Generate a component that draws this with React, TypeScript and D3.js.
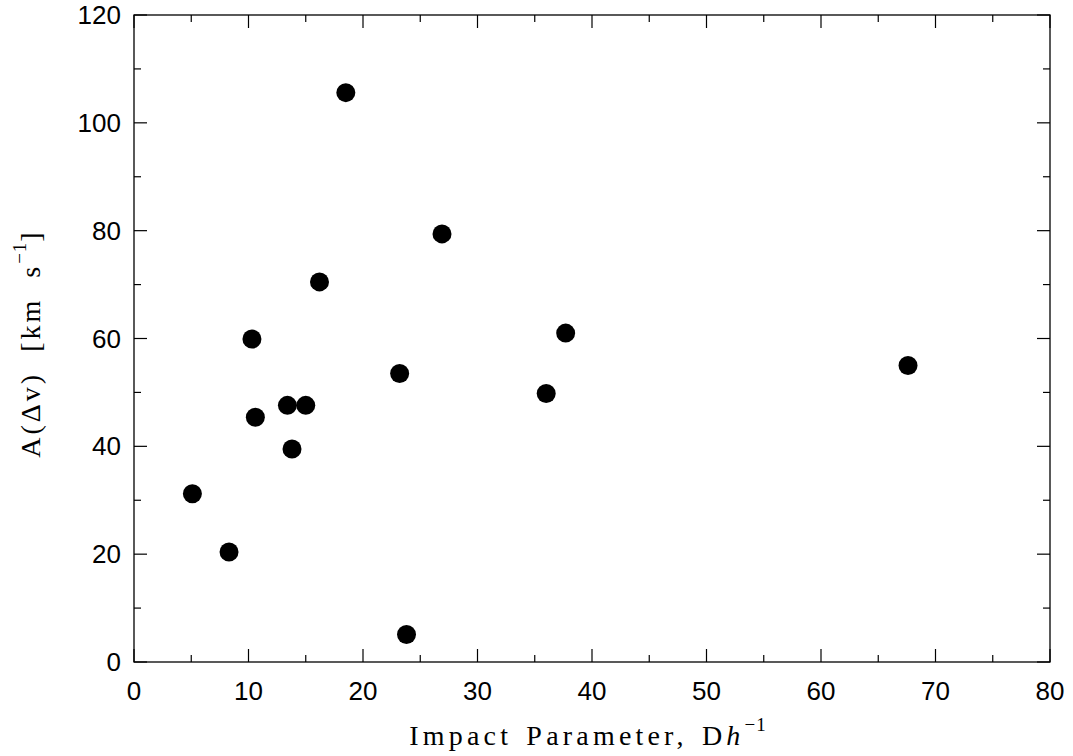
import * as d3 from 'd3'
import { useEffect, useRef } from 'react'

// impact parameter (D h^-1) and velocity amplitude A(dv) in km/s
const impactParam = [5.1, 8.3, 10.3, 10.6, 13.4, 15.0, 13.8, 16.2, 18.5, 23.2, 23.8, 26.9, 36.0, 37.7, 67.6]
const amplitude = [31.2, 20.4, 59.9, 45.4, 47.6, 47.6, 39.5, 70.5, 105.6, 53.5, 5.1, 79.4, 49.8, 61.0, 55.0]

const xMajor = [0, 10, 20, 30, 40, 50, 60, 70, 80]
const yMajor = [0, 20, 40, 60, 80, 100, 120]

const App = () => {
  const ref = useRef<SVGSVGElement>(null)

  useEffect(() => {
    const width = 1073
    const height = 756
    const left = 134
    const right = 1050
    const top = 15
    const bottom = 662
    const svg = d3.select(ref.current)
    svg.selectAll('*').remove()
    svg.attr('width', width).attr('height', height)

    const x = d3.scaleLinear().domain([0, 80]).range([left, right])
    const y = d3.scaleLinear().domain([0, 120]).range([bottom, top])

    const sans = 'Liberation Sans, Arial, sans-serif'
    const serif = 'Liberation Serif, DejaVu Serif, serif'

    // frame
    svg
      .append('rect')
      .attr('x', left)
      .attr('y', top)
      .attr('width', right - left)
      .attr('height', bottom - top)
      .attr('fill', 'none')
      .attr('stroke', '#000')
      .attr('stroke-width', 1.3)

    const ticks = svg.append('g').attr('stroke', '#000').attr('stroke-width', 1.2)
    const xMinor = d3.range(5, 80, 10)
    const yMinor = d3.range(10, 120, 20)

    // x ticks, bottom and top, pointing inward
    const xt = [...xMajor.map((v) => [v, 13]), ...xMinor.map((v) => [v, 7])]
    xt.forEach(([v, len]) => {
      ticks.append('line').attr('x1', x(v)).attr('x2', x(v)).attr('y1', bottom).attr('y2', bottom - len)
      ticks.append('line').attr('x1', x(v)).attr('x2', x(v)).attr('y1', top).attr('y2', top + len)
    })
    // y ticks, left and right
    const yt = [...yMajor.map((v) => [v, 13]), ...yMinor.map((v) => [v, 7])]
    yt.forEach(([v, len]) => {
      ticks.append('line').attr('y1', y(v)).attr('y2', y(v)).attr('x1', left).attr('x2', left + len)
      ticks.append('line').attr('y1', y(v)).attr('y2', y(v)).attr('x1', right).attr('x2', right - len)
    })

    // tick labels
    svg
      .append('g')
      .selectAll('text')
      .data(xMajor)
      .join('text')
      .attr('x', (d) => x(d))
      .attr('y', bottom + 38)
      .attr('text-anchor', 'middle')
      .style('font-family', sans)
      .style('font-size', '26px')
      .text((d) => d)

    svg
      .append('g')
      .selectAll('text')
      .data(yMajor)
      .join('text')
      .attr('x', left - 13)
      .attr('y', (d) => y(d) + 9)
      .attr('text-anchor', 'end')
      .style('font-family', sans)
      .style('font-size', '26px')
      .text((d) => d)

    // points
    svg
      .append('g')
      .selectAll('circle')
      .data(impactParam)
      .join('circle')
      .attr('cx', (d) => x(d))
      .attr('cy', (d, i) => y(amplitude[i]))
      .attr('r', 9.5)
      .attr('fill', '#000')

    // axis titles
    const xl = svg
      .append('text')
      .attr('x', (left + right) / 2 - 4)
      .attr('y', 745)
      .attr('text-anchor', 'middle')
      .style('font-family', serif)
      .style('font-size', '28px')
      .style('letter-spacing', '4.2px')
      .style('word-spacing', '3px')
    xl.append('tspan').text('Impact Parameter, D')
    xl.append('tspan').style('font-style', 'italic').text('h')
    xl.append('tspan').attr('dy', -14).style('font-size', '19px').style('letter-spacing', '1px').text('\u22121')

    const yl = svg
      .append('text')
      .attr('transform', `translate(40, ${(top + bottom) / 2 + 5}) rotate(-90)`)
      .attr('text-anchor', 'middle')
      .style('font-family', serif)
      .style('font-size', '28px')
      .style('letter-spacing', '3px')
      .style('white-space', 'pre')
    yl.append('tspan').text('A(\u0394v)  [km  s')
    yl.append('tspan').attr('dy', -14).style('font-size', '19px').style('letter-spacing', '1px').text('\u22121')
    yl.append('tspan').attr('dy', 14).text(']')
  }, [])

  return (
    <div style={{ position: 'absolute', left: 0, top: 0 }}>
      <svg ref={ref}></svg>
    </div>
  )
}
export default App
